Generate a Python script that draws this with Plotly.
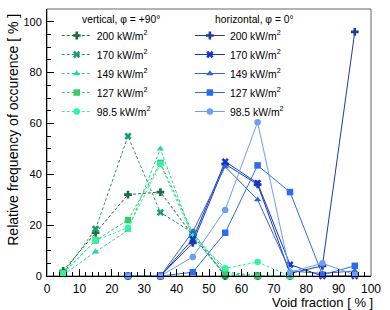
import plotly.graph_objects as go

# ---- data ----
x_vert = [5, 15, 25, 35, 45, 55, 65, 75]
vert_200 = [2, 17, 32, 33, 16, 0, 0, 0]
vert_170 = [1, 18.5, 55, 25, 17, 0, 0, 0]
vert_149 = [0.5, 9.5, 18, 50, 15, 1, 0, 0]
vert_127 = [1, 14, 22, 44.5, 17, 1.7, 0, 0]
vert_985 = [1, 14, 19, 44, 15.5, 3, 5.5, 0]

x_horiz = [25, 35, 45, 55, 65, 75, 85, 95]
horiz_200 = [0, 0, 13, 44, 36, 1, 4, 96]
horiz_170 = [0, 0, 14.5, 45, 36.5, 4.5, 0, 0]
horiz_149 = [0, 0, 17.5, 43, 30, 2, 1, 2]
horiz_127 = [0, 0, 1.5, 17, 43.5, 33, 0.5, 4]
horiz_985 = [0, 0, 7.5, 26, 60.5, 1.5, 5, 0.5]

flux_labels = ["200 kW/m<sup>2</sup>", "170 kW/m<sup>2</sup>", "149 kW/m<sup>2</sup>",
               "127 kW/m<sup>2</sup>", "98.5 kW/m<sup>2</sup>"]
symbols = ["cross", "x", "triangle-up", "square", "circle"]
vert_colors = ["#1b6e3a", "#1c9c6c", "#2ad3a4", "#3dc86a", "#2ef5a0"]
horiz_colors = ["#1f3c9c", "#1234d4", "#3366cc", "#2f6bf0", "#6d9ef5"]

vert_series = [vert_200, vert_170, vert_149, vert_127, vert_985]
horiz_series = [horiz_200, horiz_170, horiz_149, horiz_127, horiz_985]

fig = go.Figure()
for ys, lab, sym, col in zip(vert_series, flux_labels, symbols, vert_colors):
    fig.add_trace(go.Scatter(x=x_vert, y=ys, name=lab, mode="lines+markers",
                             line=dict(color=col, width=1, dash="3px,2px"),
                             marker=dict(symbol=sym, size=6.5, color=col),
                             legend="legend", cliponaxis=False))
for ys, lab, sym, col in zip(horiz_series, flux_labels, symbols, horiz_colors):
    fig.add_trace(go.Scatter(x=x_horiz, y=ys, name=lab, mode="lines+markers",
                             line=dict(color=col, width=1),
                             marker=dict(symbol=sym, size=6.5, color=col),
                             legend="legend2", cliponaxis=False))

FONT = "Liberation Sans, Arial, sans-serif"
fig.update_layout(
    width=390, height=310,
    margin=dict(l=47, r=12, t=9, b=34),
    paper_bgcolor="white", plot_bgcolor="white",
    font=dict(family=FONT, size=12, color="black"),
    showlegend=True,
    legend=dict(x=0.03, y=0.955, xanchor="left", yanchor="top",
                bgcolor="rgba(0,0,0,0)", font=dict(size=10.4)),
    legend2=dict(x=0.441, y=0.955, xanchor="left", yanchor="top",
                 bgcolor="rgba(0,0,0,0)", font=dict(size=10.4)),
    xaxis=dict(range=[0, 100], dtick=10, tick0=0, ticks="inside", ticklen=7,
               tickcolor="black", showline=True, linecolor="black", linewidth=1,
               showgrid=False, zeroline=False, ticklabelstandoff=2,
               minor=dict(dtick=2, ticks="inside", ticklen=4, tickcolor="black", showgrid=False),
               tickfont=dict(size=12)),
    yaxis=dict(range=[0, 105], dtick=20, tick0=0, ticks="inside", ticklen=7,
               tickcolor="black", showline=True, linecolor="black", linewidth=1,
               showgrid=False, zeroline=False, ticklabelstandoff=2,
               minor=dict(dtick=5, ticks="inside", ticklen=4, tickcolor="black", showgrid=False),
               tickfont=dict(size=11)),
    shapes=[dict(type="rect", xref="paper", yref="paper", x0=0, y0=0, x1=1, y1=1,
                 line=dict(color="#666666", width=1), layer="below")],
    annotations=[
        dict(text="vertical, φ = +90°", xref="paper", yref="paper",
             x=(81 - 47) / 331, y=(276 - 20) / 267, xanchor="left", yanchor="middle",
             showarrow=False, font=dict(size=10.3)),
        dict(text="horizontal, φ = 0°", xref="paper", yref="paper",
             x=(217 - 47) / 331, y=(276 - 20) / 267, xanchor="left", yanchor="middle",
             showarrow=False, font=dict(size=10.3)),
        dict(text="Relative frequency of occurence [ % ]", xref="paper", yref="paper",
             x=(12 - 47) / 331, y=(276 - 12) / 267, xanchor="center", yanchor="top",
             textangle=-90, showarrow=False, font=dict(size=14)),
        dict(text="Void fraction [ % ]", xref="paper", yref="paper",
             x=(382 - 47) / 331, y=(276 - 302) / 267, xanchor="right", yanchor="middle",
             showarrow=False, font=dict(size=13)),
    ],
)

fig.write_html("out.html", config={"displayModeBar": False},
               post_script="document.body.style.margin='0';")
